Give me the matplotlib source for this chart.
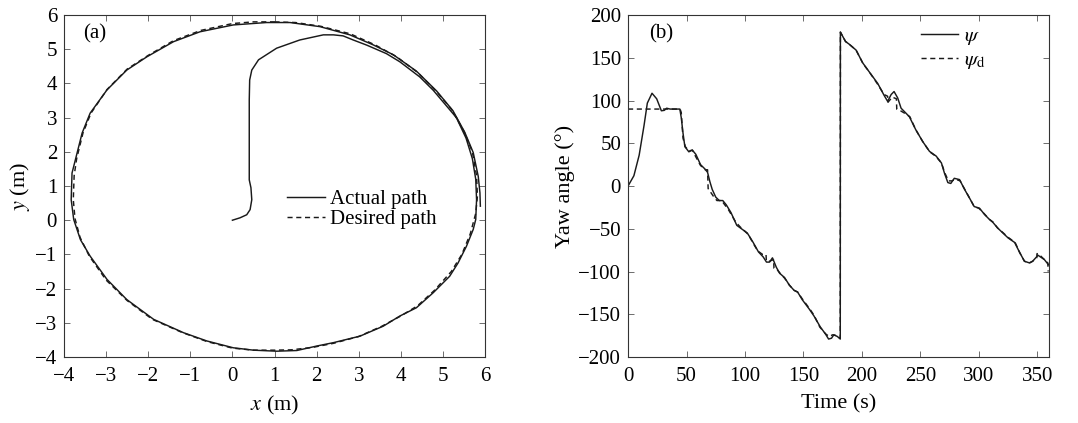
import matplotlib
matplotlib.use("Agg")
import matplotlib.pyplot as plt

plt.rcParams['font.family'] = ['Liberation Serif', 'DejaVu Serif']
plt.rcParams['mathtext.fontset'] = 'stix'
plt.rcParams['axes.unicode_minus'] = True

# ---------------- Panel (a): path in the plane ----------------
actual_x = [0.00, 0.18, 0.34, 0.42, 0.46, 0.44, 0.40, 0.40, 0.40, 0.41, 0.46, 0.62,
            1.05, 1.60, 2.16, 2.40, 2.63, 2.87, 3.19, 3.66, 3.98, 4.45, 4.77, 5.08,
            5.32, 5.55, 5.70, 5.78, 5.80, 5.78, 5.72, 5.56, 5.36, 5.16, 4.77, 4.37,
            3.98, 3.58, 3.03, 2.40, 2.00, 1.53, 1.05, 0.50, 0.02, -0.61, -1.16, -1.87,
            -2.51, -2.98, -3.38, -3.61, -3.77, -3.83, -3.81, -3.73, -3.57, -3.38, -2.98,
            -2.51, -2.03, -1.40, -0.77, 0.02, 0.81, 1.37, 2.08, 2.79, 3.34, 3.82, 4.37,
            4.85, 5.24, 5.52, 5.72, 5.84, 5.88, 5.89]
actual_y = [0.00, 0.07, 0.16, 0.31, 0.60, 0.95, 1.18, 2.06, 3.52, 4.10, 4.39, 4.69,
            5.03, 5.27, 5.42, 5.42, 5.39, 5.27, 5.12, 4.87, 4.63, 4.19, 3.80, 3.35,
            3.00, 2.40, 1.80, 1.20, 0.60, 0.02, -0.27, -0.76, -1.25, -1.64, -2.12, -2.56,
            -2.80, -3.10, -3.39, -3.58, -3.68, -3.81, -3.83, -3.80, -3.73, -3.53, -3.29, -2.90,
            -2.32, -1.73, -1.05, -0.57, 0.02, 0.60, 1.38, 1.77, 2.55, 3.13, 3.81,
            4.39, 4.78, 5.22, 5.51, 5.71, 5.78, 5.78, 5.66, 5.42, 5.13, 4.84, 4.36,
            3.78, 3.20, 2.57, 1.98, 1.28, 0.80, 0.41]

desired_x = [1.00, 1.50, 2.10, 2.80, 3.40, 3.90, 4.40, 4.85, 5.20, 5.50, 5.70, 5.80,
             5.82, 5.78, 5.65, 5.45, 5.20, 4.80, 4.40, 4.00, 3.55, 3.00, 2.40, 1.90,
             1.40, 1.00, 0.50, 0.00, -0.60, -1.20, -1.90, -2.50, -3.00, -3.40, -3.62,
             -3.74, -3.78, -3.76, -3.70, -3.55, -3.36, -2.98, -2.50, -2.00, -1.40,
             -0.75, 0.00, 0.50, 1.00]
desired_y = [5.80, 5.78, 5.67, 5.45, 5.12, 4.78, 4.32, 3.76, 3.25, 2.60, 2.00, 1.30,
             0.70, 0.20, -0.40, -1.00, -1.50, -2.05, -2.50, -2.80, -3.10, -3.40, -3.60, -3.72,
             -3.79, -3.80, -3.80, -3.74, -3.55, -3.28, -2.90, -2.35, -1.75, -1.05, -0.50,
             0.05, 0.60, 1.30, 1.80, 2.55, 3.13, 3.82, 4.42, 4.82, 5.25,
             5.55, 5.75, 5.80, 5.80]

xticks_a = [-4, -3, -2, -1, 0, 1, 2, 3, 4, 5, 6]
yticks_a = [-4, -3, -2, -1, 0, 1, 2, 3, 4, 5, 6]

# ---------------- Panel (b): yaw angle vs time ----------------
t_act = [0, 5, 9.5, 13.7, 16.5, 20.5, 24.5, 28.5, 31, 33, 36, 44.3, 45.5, 47, 48.6, 52,
         55, 58, 62, 65.7, 68, 70, 72, 75, 78, 81, 84, 88, 93, 98, 102, 107, 111.5,
         115.6, 118.4, 121, 123.5, 126.8, 129.6, 133.8, 138, 142, 145, 149, 155, 159,
         164.5, 168.8, 171.5, 174, 176, 179, 181.5, 181.6, 186, 189, 195, 200.7, 206,
         213.5, 219, 222, 225, 227.5, 230.6, 233.5, 237.8, 240.6, 246, 252, 257.8,
         263.5, 268, 270.6, 273.5, 276, 279, 283.5, 287.8, 292, 296, 300.6, 305, 309,
         312, 316, 320.6, 325, 330.6, 335, 339, 343.4, 346, 350.6, 356, 359.5]
psi_act = [0, 12, 36, 71, 97, 108.5, 102, 88, 88.5, 91, 90, 90, 80, 62, 46, 40,
           42, 37, 25, 20, 16, 5, -4, -13, -17, -17, -22, -31, -46, -51, -55, -66, -77,
           -83, -89, -89, -84, -95, -102, -107, -116, -122, -124, -133, -144, -152,
           -165, -173, -179, -178, -174, -176, -179, 180, 169, 166, 159, 144, 134,
           120, 106, 99, 107, 110.5, 103, 91, 85, 81, 66, 52, 40.5,
           35, 27, 15, 4, 3, 9, 7.5, -4, -14, -24, -26, -33.5, -39,
           -42.5, -49, -55, -60.7, -66, -78, -88, -90, -88, -81, -86, -92]

t_des = [0, 44.5, 45.5, 47, 49, 52, 55, 58, 62, 66, 68, 68.5, 70, 73, 76, 80,
         86, 92, 96, 100, 103, 107, 111, 115, 118, 118.3, 121, 124.5, 124.8, 127,
         130, 134, 138, 142, 145, 149, 155, 159, 164, 169, 172, 175, 178, 181.5,
         181.6, 186, 189, 195, 201, 206, 213, 219, 222, 222.3, 226, 229.5, 229.8,
         233, 238, 241, 246, 252, 258, 263, 268, 271, 274, 277, 280, 284, 288, 292,
         296, 300, 305, 309, 312, 316, 321, 325, 331, 335, 339, 343, 346, 349.5,
         349.8, 353, 356, 359, 359.3]
psi_des = [90, 90, 86, 56, 46, 41, 42, 34, 24, 19, 19, -3, -6, -12, -17, -17,
           -28, -42, -48, -53, -57, -67, -76, -80, -80, -88, -88, -86, -96, -97,
           -102, -108, -116, -122, -124, -132, -143, -151, -165, -173, -176, -174, -175, -178,
           180, 169, 166, 159, 143, 134, 120, 107, 105, 98, 104, 102, 90,
           88, 84, 81, 66, 52, 40, 35, 27, 15, 6, 6, 8, 6, -4, -14,
           -24, -26, -33, -39, -42, -49, -55, -60, -66, -78, -88, -90, -88, -84,
           -79, -82, -86, -90, -100]

xticks_b = [0, 50, 100, 150, 200, 250, 300, 350]
yticks_b = [-200, -150, -100, -50, 0, 50, 100, 150, 200]

FS_TICK = 15
FS_LAB = 16
FS_LEG = 15
fig = plt.figure(figsize=(10.78, 4.23), dpi=100)
axa = fig.add_axes([0.0594, 0.156, 0.3905, 0.8085])
axb = fig.add_axes([0.5826, 0.156, 0.3905, 0.8085])

def style(ax):
    ax.tick_params(direction='in', top=True, right=True, length=4, width=0.6,
                   labelsize=FS_TICK, color='#555555')
    ax.tick_params(axis='x', pad=7)
    ax.tick_params(axis='y', pad=5)
    for s in ax.spines.values():
        s.set_linewidth(0.8)
        s.set_color('#333333')

lw = 1.05
axa.plot(actual_x, actual_y, '-', color='#1a1a1a', lw=lw, label='Actual path')
axa.plot(desired_x, desired_y, '--', color='#1a1a1a', lw=lw, dashes=(3.5, 2.5),
         label='Desired path')
axa.set_xlim(-4, 6)
axa.set_ylim(-4, 6)
axa.set_xticks(xticks_a)
axa.set_yticks(yticks_a)
axa.set_xlabel(r'$x$ (m)', fontsize=FS_LAB, labelpad=6)
axa.set_ylabel(r'$y$ (m)', fontsize=FS_LAB, labelpad=2)
axa.text(0.045, 0.945, '(a)', transform=axa.transAxes, fontsize=FS_LEG, va='center')
style(axa)
axa.legend(loc='upper left', bbox_to_anchor=(0.51, 0.515), frameon=False,
           fontsize=FS_LEG, handlelength=1.8, handletextpad=0.25, labelspacing=0.05,
           borderaxespad=0)

axb.plot(t_act, psi_act, '-', color='#1a1a1a', lw=lw, label=r'$\psi$')
axb.plot(t_des, psi_des, '--', color='#1a1a1a', lw=lw, dashes=(3.5, 2.5),
         label=r'$\psi_{\mathrm{d}}$')
axb.set_xlim(0, 360)
axb.set_ylim(-200, 200)
axb.set_xticks(xticks_b)
axb.set_yticks(yticks_b)
axb.set_xlabel('Time (s)', fontsize=FS_LAB, labelpad=6)
axb.set_ylabel('Yaw angle (°)', fontsize=FS_LAB, labelpad=2)
axb.text(0.05, 0.945, '(b)', transform=axb.transAxes, fontsize=FS_LEG, va='center')
style(axb)
axb.legend(loc='upper left', bbox_to_anchor=(0.675, 0.99), frameon=False,
           fontsize=FS_LEG, handlelength=1.8, handletextpad=0.3, labelspacing=0.15,
           borderaxespad=0)

fig.savefig('out.png', dpi=100)
